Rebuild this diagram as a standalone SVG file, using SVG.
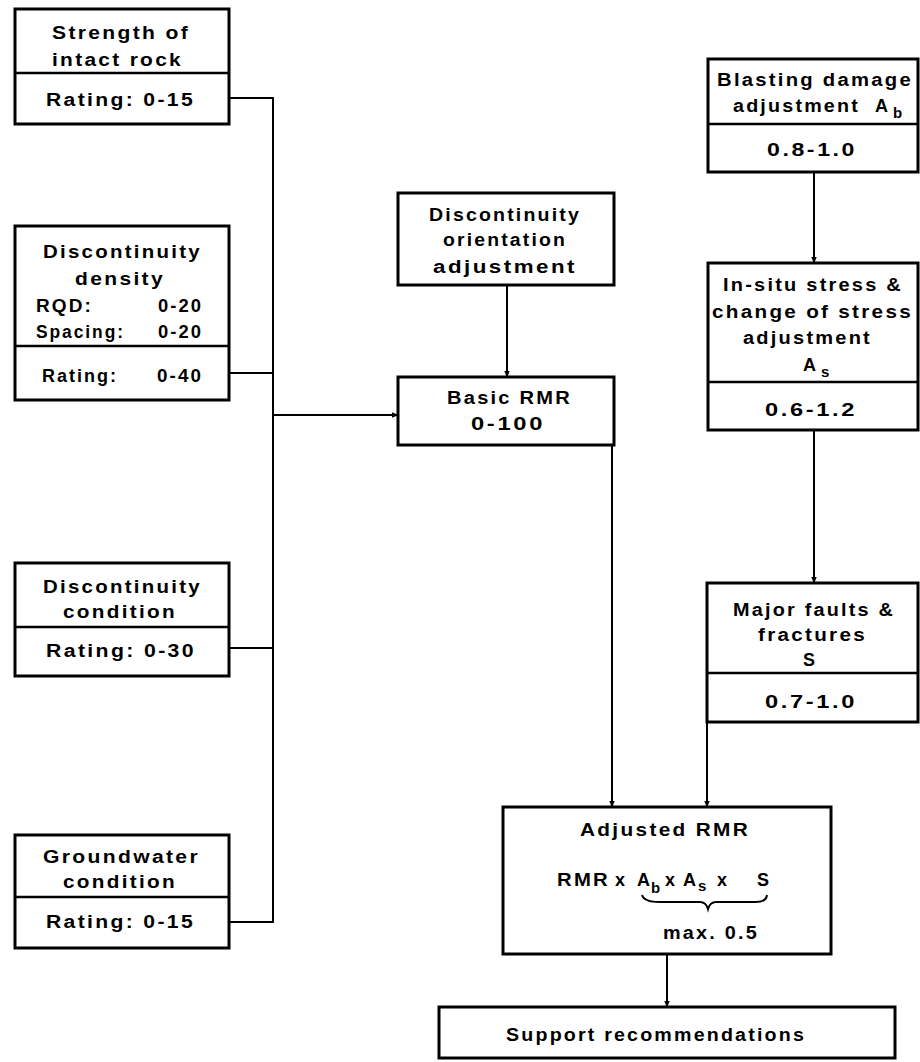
<svg xmlns="http://www.w3.org/2000/svg" width="920" height="1062" viewBox="0 0 920 1062">
<defs>
<marker id="arr" viewBox="0 0 10 10" refX="9" refY="5" markerWidth="7" markerHeight="7" orient="auto" markerUnits="userSpaceOnUse">
<path d="M0,1 L10,5 L0,9 z" fill="#000"/>
</marker>
<style>
.box{fill:#fff;stroke:#000;stroke-width:3}
.div{stroke:#000;stroke-width:2.5}
.con{fill:none;stroke:#000;stroke-width:2}
text{font-family:"Liberation Sans",Arial,sans-serif;font-weight:bold;font-size:18px;letter-spacing:2px;fill:#000;dominant-baseline:central}
.sub{font-size:15px;letter-spacing:0}
</style>
</defs>
<rect width="920" height="1062" fill="#fff"/>

<g id="connectors">
<polyline class="con" points="229,98 273,98 273,922 229,922"/>
<line class="con" x1="229" y1="373" x2="273" y2="373"/>
<line class="con" x1="229" y1="648" x2="273" y2="648"/>
<line class="con" x1="273" y1="415" x2="398" y2="415" marker-end="url(#arr)"/>
<line class="con" x1="507" y1="285" x2="507" y2="377" marker-end="url(#arr)"/>
<line class="con" x1="612" y1="445" x2="612" y2="807" marker-end="url(#arr)"/>
<line class="con" x1="814" y1="172" x2="814" y2="263" marker-end="url(#arr)"/>
<line class="con" x1="814" y1="430" x2="814" y2="583" marker-end="url(#arr)"/>
<line class="con" x1="707" y1="722" x2="707" y2="807" marker-end="url(#arr)"/>
<line class="con" x1="667" y1="954" x2="667" y2="1007" marker-end="url(#arr)"/>
</g>

<g id="strength">
<rect class="box" x="15" y="9" width="214" height="115"/>
<line class="div" x1="15" y1="73" x2="229" y2="73"/>
<text x="52" y="33" textLength="138" lengthAdjust="spacingAndGlyphs">Strength of</text>
<text x="52" y="60" textLength="131" lengthAdjust="spacingAndGlyphs">intact rock</text>
<text x="46" y="100" textLength="149" lengthAdjust="spacingAndGlyphs">Rating: 0-15</text>
</g>

<g id="density">
<rect class="box" x="15" y="226" width="214" height="174"/>
<line class="div" x1="15" y1="346" x2="229" y2="346"/>
<text x="43" y="252" textLength="159" lengthAdjust="spacingAndGlyphs">Discontinuity</text>
<text x="75" y="279" textLength="90" lengthAdjust="spacingAndGlyphs">density</text>
<text x="36" y="306" textLength="57" lengthAdjust="spacingAndGlyphs">RQD:</text>
<text x="158" y="306" textLength="45" lengthAdjust="spacingAndGlyphs">0-20</text>
<text x="36" y="332" textLength="89" lengthAdjust="spacingAndGlyphs">Spacing:</text>
<text x="158" y="332" textLength="45" lengthAdjust="spacingAndGlyphs">0-20</text>
<text x="42" y="376" textLength="76" lengthAdjust="spacingAndGlyphs">Rating:</text>
<text x="157" y="376" textLength="46" lengthAdjust="spacingAndGlyphs">0-40</text>
</g>

<g id="condition">
<rect class="box" x="15" y="563" width="214" height="113"/>
<line class="div" x1="15" y1="627" x2="229" y2="627"/>
<text x="43" y="587" textLength="159" lengthAdjust="spacingAndGlyphs">Discontinuity</text>
<text x="63" y="612" textLength="114" lengthAdjust="spacingAndGlyphs">condition</text>
<text x="46" y="651" textLength="150" lengthAdjust="spacingAndGlyphs">Rating: 0-30</text>
</g>

<g id="groundwater">
<rect class="box" x="15" y="835" width="214" height="113"/>
<line class="div" x1="15" y1="897" x2="229" y2="897"/>
<text x="43" y="857" textLength="157" lengthAdjust="spacingAndGlyphs">Groundwater</text>
<text x="63" y="882" textLength="114" lengthAdjust="spacingAndGlyphs">condition</text>
<text x="46" y="922" textLength="149" lengthAdjust="spacingAndGlyphs">Rating: 0-15</text>
</g>

<g id="orientation">
<rect class="box" x="398" y="193" width="216" height="92"/>
<text x="429" y="215" textLength="152" lengthAdjust="spacingAndGlyphs">Discontinuity</text>
<text x="443" y="240" textLength="124" lengthAdjust="spacingAndGlyphs">orientation</text>
<text x="433" y="267" textLength="144" lengthAdjust="spacingAndGlyphs">adjustment</text>
</g>

<g id="basic">
<rect class="box" x="398" y="377" width="216" height="68"/>
<text x="447" y="398" textLength="125" lengthAdjust="spacingAndGlyphs">Basic RMR</text>
<text x="471" y="424" textLength="74" lengthAdjust="spacingAndGlyphs">0-100</text>
</g>

<g id="blasting">
<rect class="box" x="708" y="59" width="210" height="113"/>
<line class="div" x1="708" y1="124" x2="918" y2="124"/>
<text x="717" y="80" textLength="196" lengthAdjust="spacingAndGlyphs">Blasting damage</text>
<text x="733" y="106" textLength="127" lengthAdjust="spacingAndGlyphs">adjustment</text>
<text x="875" y="106">A</text>
<text class="sub" x="893" y="112">b</text>
<text x="767" y="150" textLength="90" lengthAdjust="spacingAndGlyphs">0.8-1.0</text>
</g>

<g id="insitu">
<rect class="box" x="708" y="263" width="210" height="167"/>
<line class="div" x1="708" y1="382" x2="918" y2="382"/>
<text x="723" y="285" textLength="180" lengthAdjust="spacingAndGlyphs">In-situ stress &amp;</text>
<text x="712" y="312" textLength="201" lengthAdjust="spacingAndGlyphs">change of stress</text>
<text x="743" y="338" textLength="129" lengthAdjust="spacingAndGlyphs">adjustment</text>
<text x="803" y="365">A</text>
<text class="sub" x="821" y="371">s</text>
<text x="765" y="410" textLength="92" lengthAdjust="spacingAndGlyphs">0.6-1.2</text>
</g>

<g id="faults">
<rect class="box" x="707" y="583" width="211" height="139"/>
<line class="div" x1="707" y1="673" x2="918" y2="673"/>
<text x="733" y="610" textLength="162" lengthAdjust="spacingAndGlyphs">Major faults &amp;</text>
<text x="758" y="635" textLength="109" lengthAdjust="spacingAndGlyphs">fractures</text>
<text x="803" y="660">S</text>
<text x="765" y="702" textLength="92" lengthAdjust="spacingAndGlyphs">0.7-1.0</text>
</g>

<g id="adjusted">
<rect class="box" x="503" y="807" width="328" height="147"/>
<text x="580" y="830" textLength="170" lengthAdjust="spacingAndGlyphs">Adjusted RMR</text>
<text x="557" y="880" textLength="53" lengthAdjust="spacingAndGlyphs">RMR</text>
<text x="615" y="880">x</text>
<text x="637" y="880">A</text>
<text class="sub" x="651" y="887">b</text>
<text x="665" y="880">x</text>
<text x="683" y="880">A</text>
<text class="sub" x="698" y="885">s</text>
<text x="717" y="880">x</text>
<text x="757" y="880">S</text>
<path class="con" d="M642,895 Q644,902 660,902 L700,902 Q706,902 708,909 Q710,902 716,902 L756,902 Q766,902 767,895"/>
<text x="663" y="933" textLength="96" lengthAdjust="spacingAndGlyphs">max. 0.5</text>
</g>

<g id="support">
<rect class="box" x="439" y="1007" width="456" height="51"/>
<text x="506" y="1035" textLength="300" lengthAdjust="spacingAndGlyphs">Support recommendations</text>
</g>
</svg>
